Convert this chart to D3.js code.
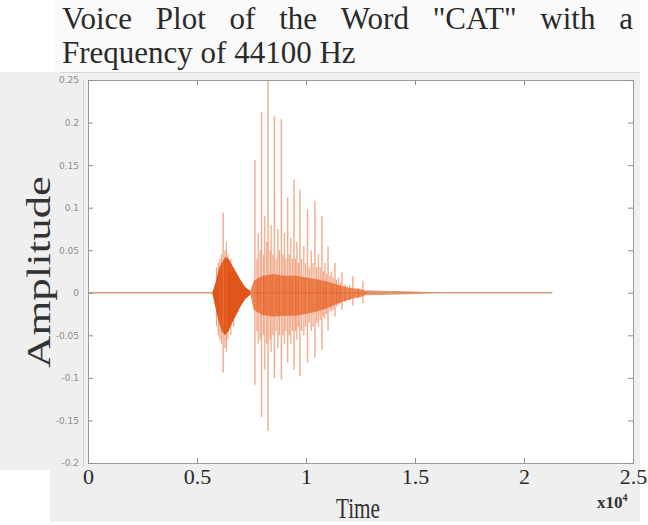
<!DOCTYPE html>
<html>
<head>
<meta charset="utf-8">
<title>Voice Plot CAT</title>
<script src="https://d3js.org/d3.v7.min.js"></script>
<style>
  body { margin: 0; background: #fff; }
  svg { display: block; }
  .serif { font-family: "Liberation Serif", "Times New Roman", serif; }
  .yax text { font-family: "DejaVu Sans", sans-serif; font-size: 9px; fill: #8c8c8c; }
  .xax text { font-family: "Liberation Serif", serif; font-size: 22px; fill: #2a2a2a; }
  .yax line, .xax line, .tick-only line { stroke: #8f8f8f; }
</style>
</head>
<body>
<script>
// ---- tick values / labels ----
var xTicks = [0, 0.5, 1, 1.5, 2, 2.5];
var xTickLabels = ["0", "0.5", "1", "1.5", "2", "2.5"];
var yTicks = [0.25, 0.2, 0.15, 0.1, 0.05, 0, -0.05, -0.1, -0.15, -0.2];
var yTickLabels = ["0.25", "0.2", "0.15", "0.1", "0.05", "0", "-0.05", "-0.1", "-0.15", "-0.2"];

// ---- title ----
var titleWords = ["Voice", "Plot", "of", "the", "Word", "\"CAT\"", "with", "a"];
var titleLine2 = "Frequency of 44100 Hz";

// ---- signal (time in units of 10^4 samples) ----
var silenceEnd = 2.13;

// "C" burst envelope
var cTime  = [0.57, 0.585, 0.60, 0.615, 0.63, 0.645, 0.66, 0.68, 0.70, 0.72, 0.745];
var cUpper = [0, 0.012, 0.028, 0.036, 0.042, 0.04, 0.033, 0.024, 0.015, 0.007, 0.002];
var cLower = [0, -0.018, -0.034, -0.046, -0.05, -0.045, -0.036, -0.026, -0.016, -0.008, -0.002];

// "A" vowel dense band envelope
var aTime  = [0.745, 0.76, 0.80, 0.85, 0.90, 0.95, 1.00, 1.05, 1.10, 1.15, 1.20, 1.25, 1.28];
var aUpper = [0.002, 0.014, 0.02, 0.022, 0.02, 0.02, 0.018, 0.016, 0.013, 0.009, 0.006, 0.004, 0.002];
var aLower = [-0.002, -0.02, -0.026, -0.028, -0.027, -0.027, -0.025, -0.022, -0.018, -0.012, -0.008, -0.005, -0.002];

// tail ripple
var tTime  = [1.28, 1.35, 1.42, 1.5, 1.6];
var tUpper = [0.003, 0.0025, 0.002, 0.0015, 0];
var tLower = [-0.003, -0.0025, -0.002, -0.0015, 0];

// pitch spikes (main)
var spikeTime = [0.62, 0.766, 0.796, 0.826, 0.855, 0.887, 0.916, 0.945, 0.972, 1.007, 1.041, 1.073, 1.101, 1.133, 1.165, 1.215, 1.261];
var spikeMax  = [0.094, 0.156, 0.212, 0.25, 0.207, 0.204, 0.112, 0.133, 0.121, 0.098, 0.108, 0.09, 0.054, 0.035, 0.024, 0.019, 0.014];
var spikeMin  = [-0.094, -0.108, -0.146, -0.162, -0.1, -0.102, -0.082, -0.09, -0.098, -0.082, -0.076, -0.067, -0.044, -0.028, -0.02, -0.015, -0.012];

// secondary spikes between main ones
var subTime = [0.605, 0.635, 0.781, 0.811, 0.840, 0.871, 0.901, 0.930, 0.958, 0.990, 1.024, 1.057, 1.087, 1.117, 1.149];
var subMax  = [0.04, 0.06, 0.07, 0.09, 0.08, 0.075, 0.07, 0.065, 0.06, 0.055, 0.05, 0.045, 0.035, 0.025, 0.018];
var subMin  = [-0.055, -0.07, -0.06, -0.09, -0.07, -0.065, -0.06, -0.06, -0.055, -0.05, -0.045, -0.04, -0.03, -0.022, -0.015];

// minor ripples inside the band
var minorTime = [0.59, 0.598, 0.612, 0.628, 0.642, 0.655, 0.668, 0.775, 0.79, 0.805, 0.82, 0.835, 0.848, 0.863, 0.878, 0.894, 0.908, 0.923, 0.938, 0.952, 0.965, 0.98, 0.998, 1.015, 1.032, 1.049, 1.065, 1.08, 1.094, 1.11, 1.125, 1.14, 1.157, 1.18, 1.2, 1.24];
var minorMax  = [0.03, 0.035, 0.045, 0.05, 0.045, 0.04, 0.03, 0.04, 0.05, 0.045, 0.06, 0.05, 0.045, 0.04, 0.05, 0.045, 0.04, 0.045, 0.04, 0.04, 0.035, 0.04, 0.035, 0.03, 0.035, 0.03, 0.03, 0.025, 0.022, 0.02, 0.018, 0.015, 0.012, 0.01, 0.009, 0.006];
var minorMin  = [-0.04, -0.05, -0.06, -0.065, -0.055, -0.05, -0.04, -0.045, -0.055, -0.05, -0.06, -0.055, -0.05, -0.045, -0.05, -0.05, -0.045, -0.05, -0.045, -0.045, -0.04, -0.045, -0.04, -0.035, -0.04, -0.035, -0.032, -0.028, -0.025, -0.022, -0.02, -0.016, -0.013, -0.011, -0.009, -0.006];

var W = 648, H = 525;
var plot = { left: 88, right: 633, top: 80, bottom: 463 };

var svg = d3.select("body").append("svg")
  .attr("width", W).attr("height", H);

// backgrounds
svg.append("rect").attr("x", 55).attr("y", 0).attr("width", 585).attr("height", 72).attr("fill", "#fafafa");
svg.append("rect").attr("x", 0).attr("y", 72).attr("width", 640).attr("height", 398).attr("fill", "#efefef");
svg.append("rect").attr("x", 50).attr("y", 470).attr("width", 590).attr("height", 52).attr("fill", "#efefef");
svg.append("line").attr("x1", 60).attr("x2", 640).attr("y1", 72.5).attr("y2", 72.5).attr("stroke", "#d6d6d6");

var x = d3.scaleLinear().domain([0, 2.5]).range([plot.left, plot.right]);
var y = d3.scaleLinear().domain([-0.2, 0.25]).range([plot.bottom, plot.top]);

// plot area
svg.append("rect")
  .attr("x", plot.left).attr("y", plot.top)
  .attr("width", plot.right - plot.left).attr("height", plot.bottom - plot.top)
  .attr("fill", "#fff");
svg.append("line").attr("x1", 83.5).attr("x2", 83.5).attr("y1", plot.top).attr("y2", plot.bottom + 4)
  .attr("stroke", "#cfcfcf");

svg.append("clipPath").attr("id", "clip").append("rect")
  .attr("x", plot.left).attr("y", plot.top)
  .attr("width", plot.right - plot.left).attr("height", plot.bottom - plot.top);

var g = svg.append("g").attr("clip-path", "url(#clip)");

// silent baseline
g.append("line")
  .attr("x1", x(0)).attr("x2", x(silenceEnd))
  .attr("y1", y(0)).attr("y2", y(0))
  .attr("stroke", "#c98d66").attr("stroke-width", 1.6).attr("opacity", 0.85);

function envelope(t, up, lo) {
  return t.map(function (d, i) { return { t: d, u: up[i], l: lo[i] }; });
}
function pairs(t, hi, lo) {
  return t.map(function (d, i) { return { t: d, hi: hi[i], lo: lo[i] }; });
}
var area = d3.area()
  .x(function (d) { return x(d.t); })
  .y0(function (d) { return y(d.l); })
  .y1(function (d) { return y(d.u); });

function spikes(cls, data, color, width, op) {
  g.selectAll("line." + cls)
    .data(data)
    .enter().append("line").attr("class", cls)
    .attr("x1", function (d) { return x(d.t); }).attr("x2", function (d) { return x(d.t); })
    .attr("y1", function (d) { return y(d.hi); }).attr("y2", function (d) { return y(d.lo); })
    .attr("stroke", color).attr("stroke-width", width).attr("opacity", op);
}

g.append("path").datum(envelope(tTime, tUpper, tLower))
  .attr("d", area).attr("fill", "#d98a5e").attr("opacity", 0.8);

g.append("path").datum(envelope(aTime, aUpper, aLower))
  .attr("d", area).attr("fill", "#e86a2e").attr("opacity", 0.8);

g.append("path").datum(envelope(cTime, cUpper, cLower))
  .attr("d", area).attr("fill", "#e0561a");

spikes("minor", pairs(minorTime, minorMax, minorMin), "#e45c20", 1.2, 0.55);
spikes("sub", pairs(subTime, subMax, subMin), "#e8692e", 1.3, 0.55);
spikes("spike", pairs(spikeTime, spikeMax, spikeMin), "#ec7a44", 1.5, 0.6);

// frame
svg.append("rect")
  .attr("x", plot.left + 0.5).attr("y", plot.top + 0.5)
  .attr("width", plot.right - plot.left).attr("height", plot.bottom - plot.top)
  .attr("fill", "none").attr("stroke", "#9a9a9a");

// axes (ticks pointing inside like MATLAB)
var yAxis = svg.append("g").attr("class", "yax")
  .attr("transform", "translate(" + plot.left + ",0)")
  .call(d3.axisLeft(y).tickValues(yTicks)
    .tickFormat(function (d, i) { return yTickLabels[i]; })
    .tickSizeInner(-5).tickSizeOuter(0).tickPadding(9));
yAxis.select(".domain").remove();

svg.append("g").attr("class", "tick-only")
  .attr("transform", "translate(" + plot.right + ",0)")
  .call(d3.axisRight(y).tickValues(yTicks).tickFormat("").tickSizeInner(-5).tickSizeOuter(0))
  .select(".domain").remove();

var xAxis = svg.append("g").attr("class", "xax")
  .attr("transform", "translate(0," + plot.bottom + ")")
  .call(d3.axisBottom(x).tickValues(xTicks)
    .tickFormat(function (d, i) { return xTickLabels[i]; })
    .tickSizeInner(-5).tickSizeOuter(0).tickPadding(5));
xAxis.select(".domain").remove();

svg.append("g").attr("class", "tick-only")
  .attr("transform", "translate(0," + plot.top + ")")
  .call(d3.axisTop(x).tickValues(xTicks).tickFormat("").tickSizeInner(-5).tickSizeOuter(0))
  .select(".domain").remove();

// exponent
var ex = svg.append("text").attr("class", "serif")
  .attr("x", 597).attr("y", 508)
  .attr("font-size", 17).attr("font-weight", "bold").attr("fill", "#333");
ex.append("tspan").text("x10");
ex.append("tspan").attr("font-size", 10).attr("dy", -7).text("4");

// axis titles
svg.append("text").attr("class", "serif")
  .attr("x", 358).attr("y", 518)
  .attr("text-anchor", "middle")
  .attr("font-size", 30).attr("fill", "#333")
  .attr("textLength", 44).attr("lengthAdjust", "spacingAndGlyphs")
  .text("Time");

svg.append("text").attr("class", "serif")
  .attr("transform", "translate(50,272) rotate(-90)")
  .attr("text-anchor", "middle")
  .attr("font-size", 33).attr("fill", "#333")
  .attr("textLength", 192).attr("lengthAdjust", "spacingAndGlyphs")
  .text("Amplitude");

// title, first line justified between 62 and 633
var tg = svg.append("g").attr("class", "serif").attr("fill", "#2a2a2a").attr("font-size", 31);
var words = tg.selectAll("text.w").data(titleWords).enter().append("text")
  .attr("class", "w").attr("y", 29).text(function (d) { return d; });
var widths = [];
words.each(function () { widths.push(this.getComputedTextLength()); });
var gap = (633 - 62 - d3.sum(widths)) / (titleWords.length - 1);
var cx = 62;
words.attr("x", function (d, i) { var p = cx; cx += widths[i] + gap; return p; });

tg.append("text").attr("x", 62).attr("y", 63).text(titleLine2);
</script>
</body>
</html>
